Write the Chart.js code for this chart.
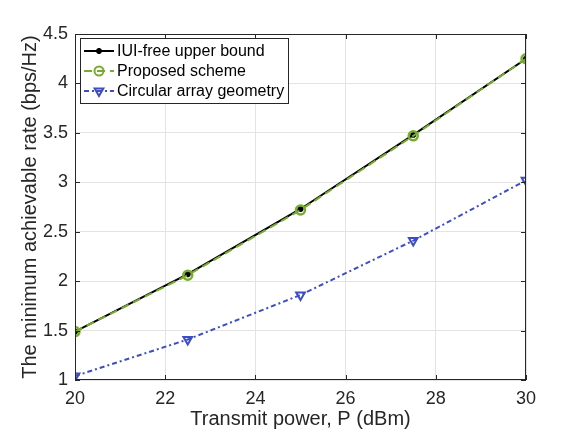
<!DOCTYPE html>
<html>
<head>
<meta charset="utf-8">
<script src="https://cdn.jsdelivr.net/npm/chart.js@4.4.1/dist/chart.umd.min.js"></script>
<style>
  html, body { margin: 0; padding: 0; background: #fff; }
  #chart { display: block; }
</style>
</head>
<body>
<canvas id="chart" width="581" height="436"></canvas>
<script>
// 数据
const powerDbm = [20, 22.5, 25, 27.5, 30];
const iuiFree = [1.49, 2.07, 2.73, 3.48, 4.25];
const proposed = [1.49, 2.06, 2.72, 3.47, 4.25];
const circular = [1.04, 1.41, 1.86, 2.41, 3.02];
const seriesNames = ['IUI-free upper bound', 'Proposed scheme', 'Circular array geometry'];
const xTicks = [20, 22, 24, 26, 28, 30];
const yTicks = [1, 1.5, 2, 2.5, 3, 3.5, 4, 4.5];

const FONT = "'Liberation Sans', Arial, sans-serif";
const AXIS = '#262626';
const GREEN = '#77AC30';
const BLUE = '#3D4EC4';

const toPoints = (ys) => ys.map((y, i) => ({ x: powerDbm[i], y }));

// 坐标框、内向刻度与图例
const matlabFrame = {
  id: 'matlabFrame',
  afterDraw(chart) {
    const { ctx, chartArea: a, scales } = chart;
    ctx.save();
    ctx.strokeStyle = AXIS;
    ctx.lineWidth = 1;
    ctx.strokeRect(a.left + 0.5, a.top + 0.5, a.right - a.left - 1, a.bottom - a.top - 1);
    ctx.beginPath();
    xTicks.forEach(v => {
      const x = Math.round(scales.x.getPixelForValue(v)) + 0.5;
      ctx.moveTo(x, a.bottom); ctx.lineTo(x, a.bottom - 5);
      ctx.moveTo(x, a.top); ctx.lineTo(x, a.top + 5);
    });
    yTicks.forEach(v => {
      const y = Math.round(scales.y.getPixelForValue(v)) + 0.5;
      ctx.moveTo(a.left, y); ctx.lineTo(a.left + 5, y);
      ctx.moveTo(a.right, y); ctx.lineTo(a.right - 5, y);
    });
    ctx.stroke();

    // 图例
    const bx = 80, by = 38, bw = 208, bh = 65;
    ctx.fillStyle = '#fff';
    ctx.fillRect(bx, by, bw, bh);
    ctx.strokeRect(bx + 0.5, by + 0.5, bw, bh);
    ctx.font = '16px ' + FONT;
    ctx.textBaseline = 'middle';
    chart.data.datasets.forEach((ds, i) => {
      const y = by + 13 + i * 20;
      ctx.save();
      ctx.strokeStyle = ds.borderColor;
      ctx.lineWidth = ds.borderWidth;
      ctx.setLineDash(ds.borderDash || []);
      ctx.beginPath();
      ctx.moveTo(bx + 4, y); ctx.lineTo(bx + 34, y);
      ctx.stroke();
      ctx.setLineDash([]);
      ctx.strokeStyle = ds.pointBorderColor;
      ctx.fillStyle = ds.pointBackgroundColor;
      Chart.helpers.drawPoint(ctx, {
        pointStyle: ds.pointStyle,
        radius: ds.pointRadius,
        rotation: ds.pointRotation || 0,
        borderWidth: ds.pointBorderWidth
      }, bx + 19, y);
      ctx.restore();
      ctx.fillStyle = '#000';
      ctx.fillText(ds.label, bx + 37, y + 1);
    });
    ctx.restore();
  }
};

new Chart(document.getElementById('chart'), {
  type: 'line',
  data: {
    datasets: [
      {
        label: seriesNames[0],
        data: toPoints(iuiFree),
        borderColor: '#000',
        borderWidth: 2,
        pointStyle: 'star',
        pointRadius: 3,
        pointBorderWidth: 2,
        pointBorderColor: '#000',
        pointBackgroundColor: '#000',
        order: 3
      },
      {
        label: seriesNames[1],
        data: toPoints(proposed),
        borderColor: GREEN,
        borderWidth: 2,
        borderDash: [8, 5],
        pointStyle: 'circle',
        pointRadius: 4.5,
        pointBorderWidth: 2.5,
        pointBorderColor: GREEN,
        pointBackgroundColor: 'rgba(0,0,0,0)',
        order: 2
      },
      {
        label: seriesNames[2],
        data: toPoints(circular),
        borderColor: BLUE,
        borderWidth: 2,
        borderDash: [5, 3, 2, 3],
        pointStyle: 'triangle',
        pointRotation: 180,
        pointRadius: 5,
        pointBorderWidth: 2,
        pointBorderColor: BLUE,
        pointBackgroundColor: 'rgba(255,255,255,0)',
        order: 1
      }
    ]
  },
  options: {
    responsive: false,
    animation: false,
    layout: { padding: { top: 34, right: 55, left: 0, bottom: 0 } },
    elements: { line: { tension: 0 } },
    scales: {
      x: {
        type: 'linear',
        min: 20,
        max: 30,
        afterBuildTicks: (s) => { s.ticks = xTicks.map(v => ({ value: v })); },
        afterFit: (s) => { s.height = 56; },
        ticks: {
          color: AXIS,
          font: { family: FONT, size: 18 },
          padding: 8,
          maxRotation: 0,
          callback: (v) => String(v)
        },
        grid: { color: '#e3e3e3', drawTicks: false },
        border: { display: false },
        title: {
          display: true,
          text: 'Transmit power, P (dBm)',
          color: AXIS,
          font: { family: FONT, size: 20 },
          padding: { top: 0, bottom: 5 }
        }
      },
      y: {
        type: 'linear',
        min: 1,
        max: 4.5,
        afterBuildTicks: (s) => { s.ticks = yTicks.map(v => ({ value: v })); },
        afterFit: (s) => { s.width = 75; },
        ticks: {
          color: AXIS,
          font: { family: FONT, size: 18 },
          padding: 7,
          callback: (v) => String(v)
        },
        grid: { color: '#e3e3e3', drawTicks: false },
        border: { display: false },
        title: {
          display: true,
          text: 'The minimum achievable rate (bps/Hz)',
          color: AXIS,
          font: { family: FONT, size: 20 },
          padding: { top: 18, bottom: 0 }
        }
      }
    },
    plugins: {
      legend: { display: false },
      tooltip: { enabled: false }
    }
  },
  plugins: [matlabFrame]
});
</script>
</body>
</html>
